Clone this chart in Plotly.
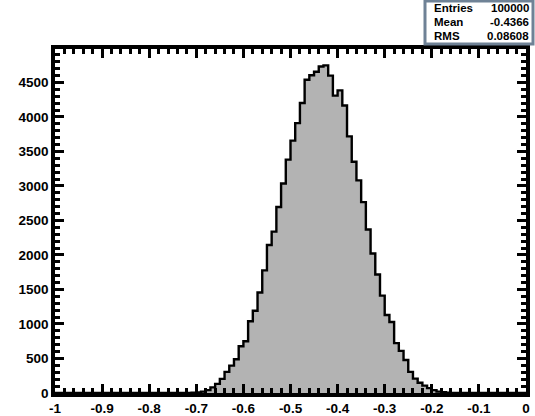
import plotly.graph_objects as go

# ---- data ----
x_min = -1.0
x_max = 0.0
bin_width = 0.01
counts = [
    0, 0, 0, 0, 0, 0, 0, 0, 0, 0,
    0, 0, 0, 0, 0, 0, 0, 0, 0, 0,
    0, 0, 0, 0, 0, 0, 0, 0, 2, 4,
    9, 20, 41, 81, 132, 204, 306, 397, 489, 677,
    749, 1039, 1192, 1457, 1777, 2144, 2338, 2694, 3035, 3382,
    3657, 3911, 4202, 4538, 4604, 4655, 4731, 4747, 4599, 4309,
    4385, 4166, 3718, 3351, 3081, 2766, 2368, 2022, 1716, 1411,
    1131, 1029, 723, 611, 479, 306, 209, 148, 107, 71,
    41, 20, 10, 4, 2, 0, 0, 0, 0, 0,
    0, 0, 0, 0, 0, 0, 0, 0, 0, 0,
]
x_tick_vals = [-1, -0.9, -0.8, -0.7, -0.6, -0.5, -0.4, -0.3, -0.2, -0.1, 0]
x_tick_text = ["-1", "-0.9", "-0.8", "-0.7", "-0.6", "-0.5", "-0.4", "-0.3", "-0.2", "-0.1", "0"]
y_tick_vals = [0, 500, 1000, 1500, 2000, 2500, 3000, 3500, 4000, 4500]
y_tick_text = ["0", "500", "1000", "1500", "2000", "2500", "3000", "3500", "4000", "4500"]
stats_labels = ["Entries", "Mean", "RMS"]
stats_values = ["100000", "-0.4366", "0.08608"]

# ---- geometry ----
W, H = 535, 416
ML, MR, MT, MB = 55, 9, 49, 23
PW = W - ML - MR
PH = H - MT - MB

def px(x):
    return (x - ML) / PW

def py(y):
    return (H - MB - y) / PH

edges = [x_min + i * bin_width for i in range(len(counts) + 1)]
ys = list(counts) + [counts[-1]]

fig = go.Figure()
fig.add_trace(go.Scatter(
    x=edges, y=ys, mode="lines", line_shape="hv",
    line=dict(color="black", width=2.4),
    fill="tozeroy", fillcolor="#b3b3b3", hoverinfo="skip",
))

font_ticks = dict(family="Liberation Sans", size=13.5, color="black", weight="bold")

fig.update_xaxes(
    range=[x_min, x_max], tickvals=x_tick_vals, ticktext=x_tick_text,
    ticks="inside", ticklen=9, tickwidth=2.5, tickcolor="black",
    showline=True, linewidth=3.5, linecolor="black", mirror="allticks",
    minor=dict(ticks="inside", dtick=0.02, tick0=-1, ticklen=5, tickwidth=2.5, tickcolor="black"),
    showgrid=False, zeroline=False, tickfont=font_ticks, automargin=False,
)
fig.update_yaxes(
    range=[0, 1.05 * max(counts)], tickvals=y_tick_vals, ticktext=y_tick_text,
    ticks="inside", ticklen=9, tickwidth=2.5, tickcolor="black",
    showline=True, linewidth=3.5, linecolor="black", mirror="allticks",
    minor=dict(ticks="inside", dtick=100, tick0=0, ticklen=5, tickwidth=2.5, tickcolor="black"),
    showgrid=False, zeroline=False, tickfont=font_ticks, automargin=False,
)

# stats box
box_l, box_r, box_t, box_b = 425, 533, 1, 44
fig.add_shape(type="rect", xref="paper", yref="paper",
              x0=px(box_l), x1=px(box_r), y0=py(box_b), y1=py(box_t),
              line=dict(color="#6f8296", width=3), fillcolor="white", layer="above")
row_y = [8, 22, 36]
for lab, val, ry in zip(stats_labels, stats_values, row_y):
    fig.add_annotation(xref="paper", yref="paper", x=px(432), y=py(ry), text=lab,
                       showarrow=False, xanchor="left", yanchor="middle",
                       font=dict(family="Liberation Sans", size=11.5, color="black", weight="bold"))
    fig.add_annotation(xref="paper", yref="paper", x=px(531), y=py(ry), text=val,
                       showarrow=False, xanchor="right", yanchor="middle",
                       font=dict(family="Liberation Sans", size=11.5, color="black", weight="bold"))

fig.update_layout(
    width=W, height=H, margin=dict(l=ML, r=MR, t=MT, b=MB, autoexpand=False),
    plot_bgcolor="white", paper_bgcolor="white", showlegend=False,
)
fig.write_html("out.html")
